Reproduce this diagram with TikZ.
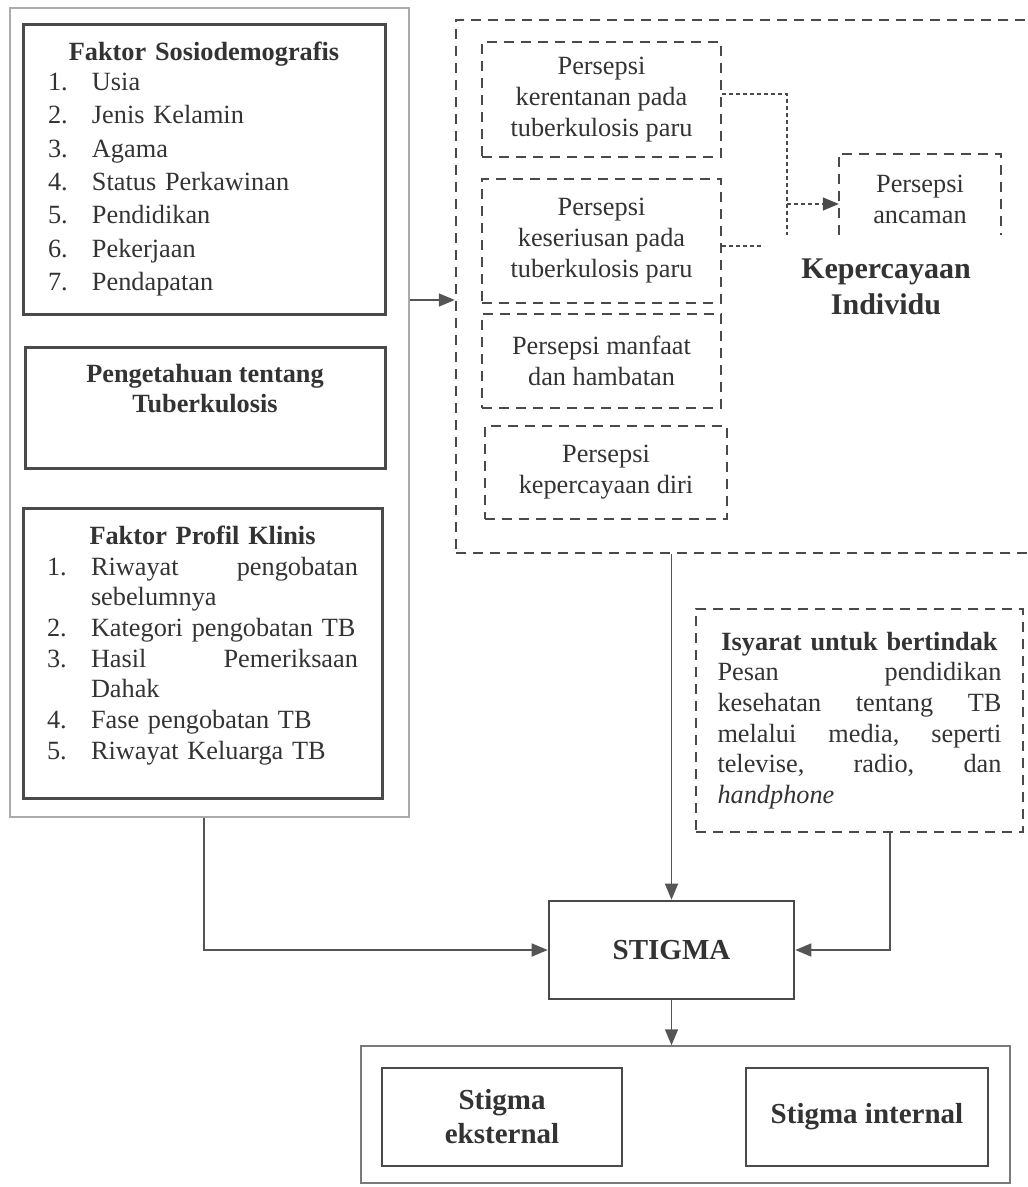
\documentclass[tikz,border=0pt]{standalone}
\usepackage{fontspec}
\setmainfont{Liberation Serif}
\usetikzlibrary{arrows.meta}

\definecolor{ink}{HTML}{333333}
\definecolor{edge}{HTML}{4A4A4A}
\definecolor{wire}{HTML}{555555}
\definecolor{pale}{HTML}{ABABAB}
\definecolor{mid}{HTML}{7A7A7A}

% numbered list lines: plain, and spread over the full width
\newcommand\nitem[2]{\makebox[44pt][l]{#1}#2}
\newcommand\nfull[4]{\makebox[#1][s]{\makebox[44pt][l]{#2}#3\hfill #4}}

\tikzset{
  txt/.style={font=\fontsize{26.3}{31}\selectfont, text=ink},
  thickbox/.style={draw=edge, line width=3pt, inner sep=0pt, txt},
  framebox/.style={draw=pale, line width=1.3pt, inner sep=0pt},
  dashbox/.style={draw=edge, line width=2.4pt, dash pattern=on 10pt off 7pt,
                  inner sep=0pt, txt, align=center},
  dotline/.style={draw=edge, line width=1.4pt, dash pattern=on 4pt off 3pt},
  link/.style={draw=wire, line width=1.6pt},
  tip/.style={-{Triangle[length=16pt,width=13pt]}},
}

\begin{document}
\begin{tikzpicture}[x=1pt, y=-1pt]
  \useasboundingbox (0,0) rectangle (1028,1187);
  \fill[white] (0,0) rectangle (1028,1187);
  \clip (0,0) rectangle (1028,1187);

  % ---------------- left column: factors ----------------
  \node[framebox, minimum width=399pt, minimum height=809pt] (leftgroup) at (209.5,412.5) {};

  \node[thickbox, minimum width=362pt, minimum height=290pt, text width=312pt,
        align=left, font=\fontsize{26.3}{33.3}\selectfont] (sosio) at (204,169)
    {\makebox[312pt]{\textbf{Faktor Sosiodemografis}}\\[-3.3pt]
     \nitem{1.}{Usia}\\
     \nitem{2.}{Jenis Kelamin}\\
     \nitem{3.}{Agama}\\
     \nitem{4.}{Status Perkawinan}\\
     \nitem{5.}{Pendidikan}\\
     \nitem{6.}{Pekerjaan}\\
     \nitem{7.}{Pendapatan}};

  \node[thickbox, minimum width=360pt, minimum height=121pt, align=center,
        font=\fontsize{26.3}{30}\selectfont\bfseries] (know) at (205,407.5)
    {Pengetahuan tentang\\Tuberkulosis\rule[-39pt]{0pt}{0pt}};

  \node[thickbox, minimum width=359pt, minimum height=290pt, text width=311pt,
        align=left, font=\fontsize{26.3}{30.7}\selectfont] (klinis) at (202.5,653)
    {\makebox[311pt]{\textbf{Faktor Profil Klinis}}\\
     \nfull{311pt}{1.}{Riwayat}{pengobatan}\\
     \hspace*{44pt}sebelumnya\\
     \nitem{2.}{Kategori pengobatan TB}\\
     \nfull{311pt}{3.}{Hasil}{Pemeriksaan}\\
     \hspace*{44pt}Dahak\\
     \nitem{4.}{Fase pengobatan TB}\\
     \nitem{5.}{Riwayat Keluarga TB}\rule[-21pt]{0pt}{0pt}};

  % ---------------- individual beliefs ----------------
  \node[dashbox, minimum width=579pt, minimum height=533pt] (kp) at (745.5,286.5) {};

  \node[dashbox, minimum width=239pt, minimum height=115pt] (p1) at (601.5,99.5)
    {Persepsi\\kerentanan pada\\tuberkulosis paru};
  \node[dashbox, minimum width=239pt, minimum height=124pt] (p2) at (601.5,241)
    {Persepsi\\keseriusan pada\\tuberkulosis paru};
  \node[dashbox, minimum width=239pt, minimum height=94pt] (p3) at (601.5,361)
    {Persepsi manfaat\\dan hambatan};
  \node[dashbox, minimum width=242pt, minimum height=93pt] (p4) at (606,472.5)
    {Persepsi\\kepercayaan diri};

  \node[txt, align=center, inner sep=0pt, minimum width=162pt, minimum height=81pt]
    (ancaman) at (920,194.5) {\rule{0pt}{27pt}Persepsi\\ancaman};
  \draw[draw=edge, line width=2.4pt, dash pattern=on 10pt off 7pt]
    (ancaman.south west) |- (ancaman.north east) -- (ancaman.south east);

  \node[align=center, text=ink, inner sep=0pt,
        font=\fontsize{30}{36}\selectfont\bfseries] (kptitle) at (886,287)
    {Kepercayaan\\Individu};

  % threat perception links
  \coordinate (bendtop) at (787,94);
  \coordinate (bendmid) at (787,204);
  \coordinate (bendbot) at (787,235);
  \coordinate (p2end) at (763,246);
  \draw[dotline] (p1.east |- bendtop) -- (bendtop) -- (bendbot);
  \draw[dotline, tip] (bendmid) -- (ancaman.west |- bendmid);
  \draw[dotline] (p2.east |- p2end) -- (p2end);

  % ---------------- cues to action ----------------
  \node[dashbox, minimum width=327pt, minimum height=223pt, text width=284pt,
        align=left, font=\fontsize{26.3}{30.6}\selectfont] (cue) at (859.5,720.5)
    {\makebox[284pt]{\textbf{Isyarat untuk bertindak}}\\
     \makebox[284pt][s]{Pesan\hfill pendidikan}\\
     \makebox[284pt][s]{kesehatan\hfill tentang\hfill TB}\\
     \makebox[284pt][s]{melalui\hfill media,\hfill seperti}\\
     \makebox[284pt][s]{televise,\hfill radio,\hfill dan}\\
     \textit{handphone}};

  % ---------------- stigma ----------------
  \node[draw=edge, line width=2.6pt, inner sep=0pt, text=ink,
        font=\fontsize{29}{34}\selectfont\bfseries,
        minimum width=245pt, minimum height=98pt] (stigma) at (671.5,950) {STIGMA};

  \node[draw=mid, line width=1.5pt, minimum width=649pt, minimum height=137pt]
    (outcome) at (685.5,1114.5) {};
  \node[draw=edge, line width=2.6pt, inner sep=0pt, text=ink, align=center,
        font=\fontsize{29}{34}\selectfont\bfseries,
        minimum width=240pt, minimum height=98pt] (ext) at (502,1117) {Stigma\\eksternal};
  \node[draw=edge, line width=2.6pt, inner sep=0pt, text=ink,
        font=\fontsize{29}{34}\selectfont\bfseries,
        minimum width=242pt, minimum height=98pt] (int) at (867,1117) {Stigma internal};

  % ---------------- main connectors ----------------
  \coordinate (midrow) at (430,300);
  \coordinate (dropL) at (204,0);
  \coordinate (dropR) at (890,0);
  \draw[link, tip] (leftgroup.east |- midrow) -- (kp.west |- midrow);
  \draw[link, tip] (kp.south -| stigma.north) -- (stigma.north);
  \draw[link, tip] (leftgroup.south -| dropL) |- (stigma.west);
  \draw[link, tip] (cue.south -| dropR) |- (stigma.east);
  \draw[link, tip] (stigma.south) -- (stigma.south |- outcome.north);
\end{tikzpicture}
\end{document}
